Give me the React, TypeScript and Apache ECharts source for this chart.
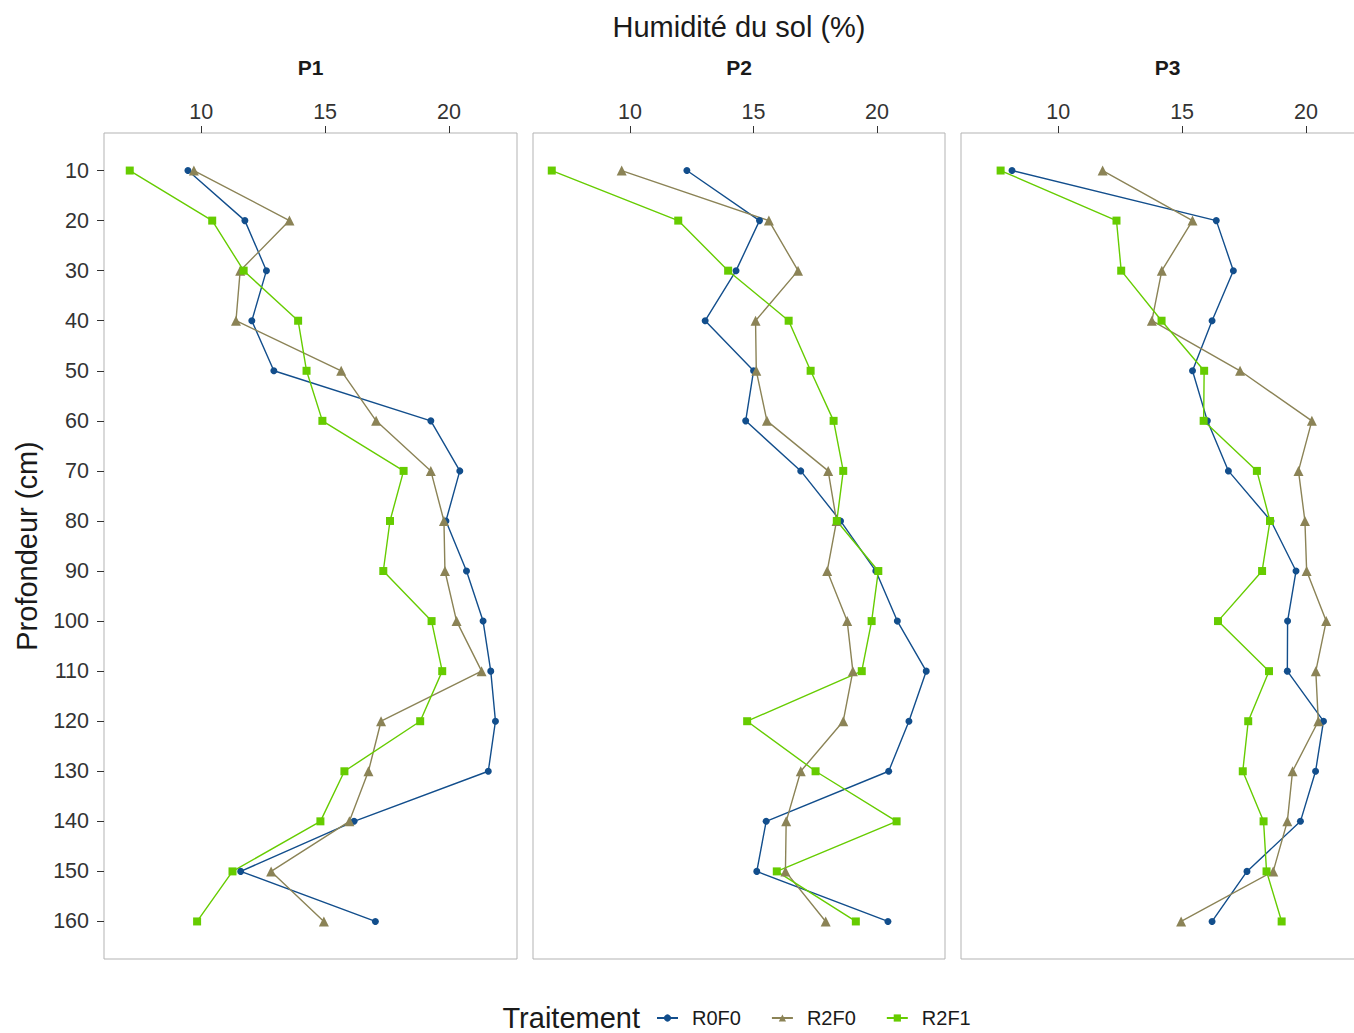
import React, { useEffect, useRef } from "react";
import * as echarts from "echarts";

const depths = [10, 20, 30, 40, 50, 60, 70, 80, 90, 100, 110, 120, 130, 140, 150, 160];
const panels = ["P1", "P2", "P3"];
const treatments = ["R0F0", "R2F0", "R2F1"];
const xTicks = [10, 15, 20];

const p1R0F0 = [9.46, 11.76, 12.63, 12.04, 12.93, 19.27, 20.44, 19.88, 20.71, 21.38, 21.69, 21.88, 21.59, 16.17, 11.59, 17.03];
const p1R2F0 = [9.7, 13.56, 11.57, 11.4, 15.65, 17.06, 19.27, 19.8, 19.84, 20.31, 21.32, 17.26, 16.75, 15.98, 12.82, 14.95];
const p1R2F1 = [7.11, 10.44, 11.71, 13.91, 14.25, 14.89, 18.17, 17.62, 17.35, 19.3, 19.73, 18.84, 15.78, 14.81, 11.26, 9.83];

const p2R0F0 = [12.3, 15.24, 14.29, 13.04, 15.0, 14.68, 16.91, 18.52, 19.95, 20.82, 21.99, 21.29, 20.47, 15.51, 15.13, 20.44];
const p2R2F0 = [9.66, 15.62, 16.8, 15.08, 15.11, 15.54, 18.02, 18.36, 17.98, 18.79, 19.02, 18.63, 16.91, 16.32, 16.29, 17.92];
const p2R2F1 = [6.83, 11.95, 13.97, 16.42, 17.31, 18.24, 18.63, 18.37, 20.05, 19.78, 19.38, 14.74, 17.51, 20.79, 15.94, 19.14];

const p3R0F0 = [8.13, 16.38, 17.07, 16.21, 15.42, 16.02, 16.87, 18.59, 19.6, 19.26, 19.25, 20.71, 20.39, 19.78, 17.62, 16.21];
const p3R2F0 = [11.79, 15.42, 14.18, 13.78, 17.34, 20.24, 19.7, 19.96, 20.03, 20.82, 20.4, 20.5, 19.46, 19.25, 18.68, 14.96];
const p3R2F1 = [7.67, 12.35, 12.54, 14.17, 15.89, 15.87, 18.02, 18.55, 18.23, 16.45, 18.51, 17.67, 17.45, 18.29, 18.41, 19.02];

const panelData = [
  [p1R0F0, p1R2F0, p1R2F1],
  [p2R0F0, p2R2F0, p2R2F1],
  [p3R0F0, p3R2F0, p3R2F1],
];

const colors = ["#124e8c", "#8b8356", "#66cc00"];
const symbols = ["circle", "triangle", "rect"];
const symbolSizes = [7, 10, 8];

const FONT = "Liberation Sans";

export default function App() {
  const ref = useRef<HTMLDivElement>(null);
  useEffect(() => {
    if (!ref.current) return;
    const chart = echarts.init(ref.current, undefined, { renderer: "svg" });
    const gridLefts = [104, 533, 961];
    const gridWidths = [413, 412, 413];
    const grids = gridLefts.map((l, i) => ({
      left: l,
      top: 133,
      width: gridWidths[i],
      height: 826,
      show: true,
      borderColor: "#b3b3b3",
      borderWidth: 1,
      backgroundColor: "#ffffff",
      containLabel: false,
    }));
    const xAxes = panels.map((_, i) => ({
      type: "value",
      gridIndex: i,
      position: "top",
      min: 6.07,
      max: 22.75,
      axisLine: { show: false },
      splitLine: { show: false },
      axisTick: { show: true, length: 7, lineStyle: { color: "#333333" }, customValues: xTicks },
      axisLabel: { show: true, fontFamily: FONT, fontSize: 21.5, color: "#333333", margin: 10, customValues: xTicks },
    }));
    const yAxes = panels.map((_, i) => ({
      type: "value",
      gridIndex: i,
      inverse: true,
      min: 2.5,
      max: 167.5,
      axisLine: { show: false },
      splitLine: { show: false },
      axisTick: { show: i === 0, length: 7, lineStyle: { color: "#333333" }, customValues: depths },
      axisLabel: { show: i === 0, fontFamily: FONT, fontSize: 21.5, color: "#333333", margin: 15, customValues: depths },
    }));
    const series: any[] = [];
    panels.forEach((_, p) => {
      treatments.forEach((t, k) => {
        series.push({
          type: "line",
          name: t,
          xAxisIndex: p,
          yAxisIndex: p,
          data: depths.map((d, j) => [panelData[p][k][j], d]),
          symbol: symbols[k],
          symbolSize: symbolSizes[k],
          showSymbol: true,
          color: colors[k],
          itemStyle: { color: colors[k] },
          lineStyle: { color: colors[k], width: 1.4 },
          emphasis: { disabled: true },
        });
      });
    });
    const stripCenters = gridLefts.map((l, i) => l + gridWidths[i] / 2);
    chart.setOption({
      animation: false,
      grid: grids,
      xAxis: xAxes,
      yAxis: yAxes,
      series,
      legend: {
        data: treatments,
        left: 656,
        top: 1008,
        padding: 0,
        itemWidth: 21,
        itemHeight: 9,
        itemGap: 30,
        textStyle: { fontFamily: FONT, fontSize: 20, color: "#1a1a1a", padding: [0, 0, 0, 9] },
      },
      graphic: [
        {
          type: "text",
          x: 739,
          y: 27,
          style: { text: "Humidité du sol (%)", font: `29px '${FONT}'`, fill: "#1a1a1a", textAlign: "center", textVerticalAlign: "middle" },
        },
        ...panels.map((p, i) => ({
          type: "text",
          x: stripCenters[i],
          y: 67,
          style: { text: p, font: `bold 21px '${FONT}'`, fill: "#1a1a1a", textAlign: "center", textVerticalAlign: "middle" },
        })),
        {
          type: "text",
          x: 27,
          y: 546,
          rotation: Math.PI / 2,
          style: { text: "Profondeur (cm)", font: `29px '${FONT}'`, fill: "#1a1a1a", textAlign: "center", textVerticalAlign: "middle" },
        },
        {
          type: "text",
          x: 640,
          y: 1018,
          style: { text: "Traitement", font: `29px '${FONT}'`, fill: "#1a1a1a", textAlign: "right", textVerticalAlign: "middle" },
        },
      ],
    });
    return () => chart.dispose();
  }, []);
  return (
    <div style={{ position: "fixed", left: 0, top: 0, width: 1354, height: 1033, overflow: "hidden", background: "#fff" }}>
      <div ref={ref} style={{ width: 1390, height: 1033 }} />
    </div>
  );
}
